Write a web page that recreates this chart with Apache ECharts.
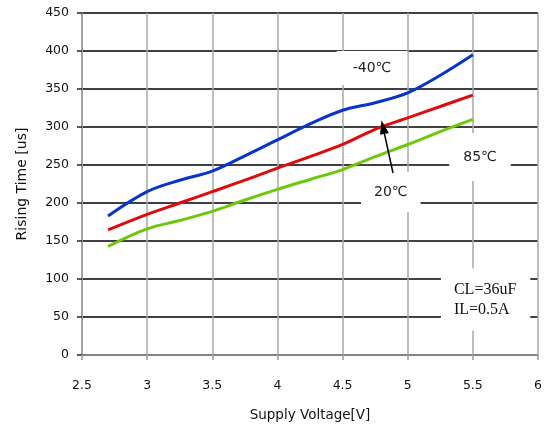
<!DOCTYPE html>
<html>
<head>
<meta charset="utf-8">
<script src="https://cdn.jsdelivr.net/npm/echarts@6/dist/echarts.min.js"></script>
<style>
html,body{margin:0;padding:0;background:#fff;}
#chart{width:549px;height:428px;}
</style>
</head>
<body>
<div id="chart"></div>
<script>
var voltage = [2.7, 3.0, 3.25, 3.5, 3.75, 4.0, 4.25, 4.5, 4.75, 5.0, 5.25, 5.5];
var riseM40 = [183, 215, 230, 242, 262, 283, 304, 322, 332, 345, 368, 395];
var rise20  = [164.5, 185, 200, 215, 230, 246, 261, 277, 297, 312, 327, 342];
var rise85  = [143, 166, 177, 189, 204, 218, 231, 244, 261, 277, 294, 310];
var seriesNames = ['-40℃', '20℃', '85℃'];
var seriesColors = ['#0535cc', '#e00a0a', '#6cc80a'];

function pairs(ys){ return voltage.map(function(v,i){ return [v, ys[i]]; }); }

var chart = echarts.init(document.getElementById('chart'), null, {renderer:'canvas'});
var font = 'DejaVu Sans';
chart.setOption({
  animation:false,
  backgroundColor:'#fff',
  grid:{left:82, right:11, top:13, bottom:73, containLabel:false},
  xAxis:{
    type:'value', min:2.5, max:6, interval:0.5,
    name:'Supply Voltage[V]', nameLocation:'middle', nameGap:53,
    nameTextStyle:{fontFamily:font, fontSize:13.5, color:'#111'},
    axisLine:{lineStyle:{color:'#999', width:1.5}},
    axisTick:{show:true, length:5, lineStyle:{color:'#999', width:1.5}},
    axisLabel:{fontFamily:font, fontSize:12.5, color:'#111', margin:24},
    splitLine:{show:true, lineStyle:{color:'#a8a8a8', width:1.5}}
  },
  yAxis:{
    type:'value', min:0, max:450, interval:50,
    name:'Rising Time [us]', nameLocation:'middle', nameGap:53,
    nameTextStyle:{fontFamily:font, fontSize:14, color:'#111'},
    axisLine:{show:true, lineStyle:{color:'#999', width:1.5}},
    axisTick:{show:true, length:5, lineStyle:{color:'#222', width:1.5}},
    axisLabel:{fontFamily:font, fontSize:12.5, color:'#111', margin:13},
    splitLine:{show:true, lineStyle:{color:'#000', width:1.5}}
  },
  series:[
    {name:seriesNames[0], type:'line', smooth:0.35, showSymbol:false, data:pairs(riseM40),
     lineStyle:{color:seriesColors[0], width:3}, z:3},
    {name:seriesNames[1], type:'line', smooth:0.35, showSymbol:false, data:pairs(rise20),
     lineStyle:{color:seriesColors[1], width:3}, z:3,
     markLine:{silent:true, symbol:['none','triangle'], symbolSize:[9,14],
       label:{show:false}, lineStyle:{color:'#000', width:1.5, type:'solid'},
       data:[[{coord:[4.887, 239.5]}, {coord:[4.81, 300]}]]}},
    {name:seriesNames[2], type:'line', smooth:0.35, showSymbol:false, data:pairs(rise85),
     lineStyle:{color:seriesColors[2], width:3}, z:3}
  ]
});

function px(x,y){ return chart.convertToPixel({gridIndex:0}, [x,y]); }
function box(x, y, txt, pad){
  var p = px(x,y);
  return {
    type:'text', x:p[0], y:p[1], z:1,
    style:{text:txt, font:'14px "DejaVu Sans"', fill:'#222', align:'center', verticalAlign:'middle',
      backgroundColor:'#fff', padding:pad}
  };
}
var cl = px(5.255, 73);
chart.setOption({
  graphic:[
    box(4.726, 377.6, seriesNames[0], [10,16]),
    box(5.555, 260.5, seriesNames[2], [17,14]),
    box(4.87, 214.5, seriesNames[1], [13,13]),
    {type:'text', x:cl[0], y:cl[1], z:1,
     style:{text:'CL=36uF\nIL=0.5A', font:'16px "Liberation Serif"', lineHeight:20, fill:'#111',
       align:'left', verticalAlign:'middle', backgroundColor:'#fff', padding:[11,14,11,13]}}
  ]
});
</script>
</body>
</html>
